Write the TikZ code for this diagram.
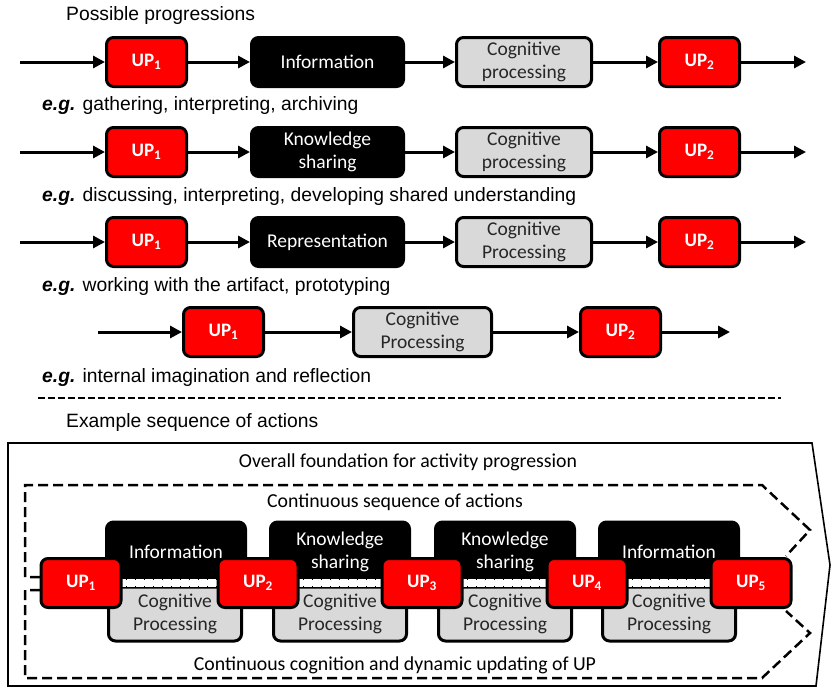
\documentclass[tikz,border=0pt]{standalone}
\usepackage{fontspec}
\setmainfont{Liberation Sans}
\newfontfamily\calfont{Carlito}
\usetikzlibrary{arrows.meta}
\definecolor{boxgrey}{HTML}{D9D9D9}
\definecolor{upred}{HTML}{FF0000}
\begin{document}
\begin{tikzpicture}[x=1pt,y=-1pt,
  upbox/.style={draw=black, line width=3pt, fill=upred, rounded corners=7pt,
    minimum width=80pt, minimum height=49pt, inner sep=0pt, text=white,
    font=\calfont\bfseries\fontsize{19}{21}\selectfont},
  blkbox/.style={draw=black, line width=3pt, fill=black, rounded corners=7pt,
    minimum height=49pt, inner sep=0pt, text=white, align=center,
    font=\calfont\fontsize{19.5}{23}\selectfont},
  gryboxx/.style={draw=black, line width=3pt, fill=boxgrey, rounded corners=7pt,
    minimum height=49pt, inner sep=0pt, text=black!85, align=center,
    font=\calfont\fontsize{19.5}{23}\selectfont},
  arr/.style={line width=3pt, -{Triangle[length=12pt,width=12pt]}},
  lbl/.style={anchor=west, inner sep=0pt, font=\fontsize{19.3}{22}\selectfont},
  btxt/.style={inner sep=0pt, font=\calfont\fontsize{19.8}{22}\selectfont},
  dline/.style={line width=2.5pt, dash pattern=on 10pt off 5pt},
  bandw/.style={white, line width=8pt},
  bandt/.style={black, line width=0.8pt, dash pattern=on 1pt off 8pt},
]
\useasboundingbox (0,0) rectangle (832,689);

% ---------- top title ----------
\node[lbl] (title) at (66,16) {Possible progressions};

% ---------- row 1 ----------
\node[upbox] (a1) at (146.5,62) {UP\textsubscript{1}};
\node[blkbox, minimum width=152pt] (b1) at (327.5,62) {Information};
\node[gryboxx, minimum width=135pt] (c1) at (524,62) {Cognitive\\processing};
\node[upbox] (d1) at (699.5,62) {UP\textsubscript{2}};
\coordinate (s1) at (20,62);
\coordinate (e1) at (806,62);
\draw[arr] (s1) -- (a1);
\draw[arr] (a1) -- (b1);
\draw[arr] (b1) -- (c1);
\draw[arr] (c1) -- (d1);
\draw[arr] (d1) -- (e1);
\node[lbl] (g1) at (42,106) {\textbf{\textit{e.g.}} gathering, interpreting, archiving};

% ---------- row 2 ----------
\node[upbox] (a2) at (146.5,152) {UP\textsubscript{1}};
\node[blkbox, minimum width=152pt] (b2) at (327.5,152) {Knowledge\\sharing};
\node[gryboxx, minimum width=135pt] (c2) at (524,152) {Cognitive\\processing};
\node[upbox] (d2) at (699.5,152) {UP\textsubscript{2}};
\coordinate (s2) at (20,152);
\coordinate (e2) at (806,152);
\draw[arr] (s2) -- (a2);
\draw[arr] (a2) -- (b2);
\draw[arr] (b2) -- (c2);
\draw[arr] (c2) -- (d2);
\draw[arr] (d2) -- (e2);
\node[lbl] (g2) at (42,197) {\textbf{\textit{e.g.}} discussing, interpreting, developing shared understanding};

% ---------- row 3 ----------
\node[upbox] (a3) at (146.5,242) {UP\textsubscript{1}};
\node[blkbox, minimum width=152pt] (b3) at (327.5,242) {Representation};
\node[gryboxx, minimum width=135pt] (c3) at (524,242) {Cognitive\\Processing};
\node[upbox] (d3) at (699.5,242) {UP\textsubscript{2}};
\coordinate (s3) at (20,242);
\coordinate (e3) at (806,242);
\draw[arr] (s3) -- (a3);
\draw[arr] (a3) -- (b3);
\draw[arr] (b3) -- (c3);
\draw[arr] (c3) -- (d3);
\draw[arr] (d3) -- (e3);
\node[lbl] (g3) at (42,287) {\textbf{\textit{e.g.}} working with the artifact, prototyping};

% ---------- row 4 ----------
\node[upbox] (a4) at (223.5,332) {UP\textsubscript{1}};
\node[gryboxx, minimum width=138pt] (c4) at (422.5,332) {Cognitive\\Processing};
\node[upbox] (d4) at (620.5,332) {UP\textsubscript{2}};
\coordinate (s4) at (98,332);
\coordinate (e4) at (730,332);
\draw[arr] (s4) -- (a4);
\draw[arr] (a4) -- (c4);
\draw[arr] (c4) -- (d4);
\draw[arr] (d4) -- (e4);
\node[lbl] (g4) at (42,378) {\textbf{\textit{e.g.}} internal imagination and reflection};

% ---------- separator ----------
\draw[line width=1.4pt, dash pattern=on 7pt off 3pt] (38,398) -- (781,398);
\node[lbl] (title2) at (66,422) {Example sequence of actions};

% ---------- bottom: example sequence ----------
\draw[line width=1.6pt] (8,443) -- (812,443) -- (830,565) -- (816,686) -- (8,686) -- cycle;
\node[btxt] (t1) at (408,462) {Overall foundation for activity progression};
\node[btxt] (t2) at (395,502) {Continuous sequence of actions};
\node[btxt] (t3) at (395,665) {Continuous cognition and dynamic updating of UP};

\draw[dline] (40,577) -- (25,577) -- (25,485) -- (762,485) -- (810,530) -- (786,556);
\draw[dline] (40,590) -- (25,590) -- (25,678) -- (762,678) -- (810,633) -- (786,611);

\coordinate (p1) at (81,583);
\coordinate (p2) at (258,583);
\coordinate (p3) at (422,583);
\coordinate (p4) at (587,583);
\coordinate (p5) at (751,583);

\node[gryboxx, minimum width=133pt, minimum height=54pt] (q1) at (175,614) {Cognitive\\Processing};
\node[gryboxx, minimum width=133pt, minimum height=54pt] (q2) at (340,614) {Cognitive\\Processing};
\node[gryboxx, minimum width=133pt, minimum height=54pt] (q3) at (505,614) {Cognitive\\Processing};
\node[gryboxx, minimum width=133pt, minimum height=54pt] (q4) at (669,614) {Cognitive\\Processing};

\node[blkbox, minimum width=139pt, minimum height=60pt] (k1) at (176,552) {Information};
\node[blkbox, minimum width=139pt, minimum height=60pt] (k2) at (340,552) {Knowledge\\sharing};
\node[blkbox, minimum width=139pt, minimum height=60pt] (k3) at (505,552) {Knowledge\\sharing};
\node[blkbox, minimum width=139pt, minimum height=60pt] (k4) at (669,552) {Information};

\foreach \i/\j in {p1/p2, p2/p3, p3/p4, p4/p5} {
  \draw[bandw] (\i) -- (\j);
  \draw[bandt] ([yshift=3.5pt]\i) -- ([yshift=3.5pt]\j);
  \draw[bandt] ([yshift=-3.5pt]\i) -- ([yshift=-3.5pt]\j);
}

\node[upbox] (u1) at (p1) {UP\textsubscript{1}};
\node[upbox] (u2) at (p2) {UP\textsubscript{2}};
\node[upbox] (u3) at (p3) {UP\textsubscript{3}};
\node[upbox] (u4) at (p4) {UP\textsubscript{4}};
\node[upbox] (u5) at (p5) {UP\textsubscript{5}};
\end{tikzpicture}
\end{document}
